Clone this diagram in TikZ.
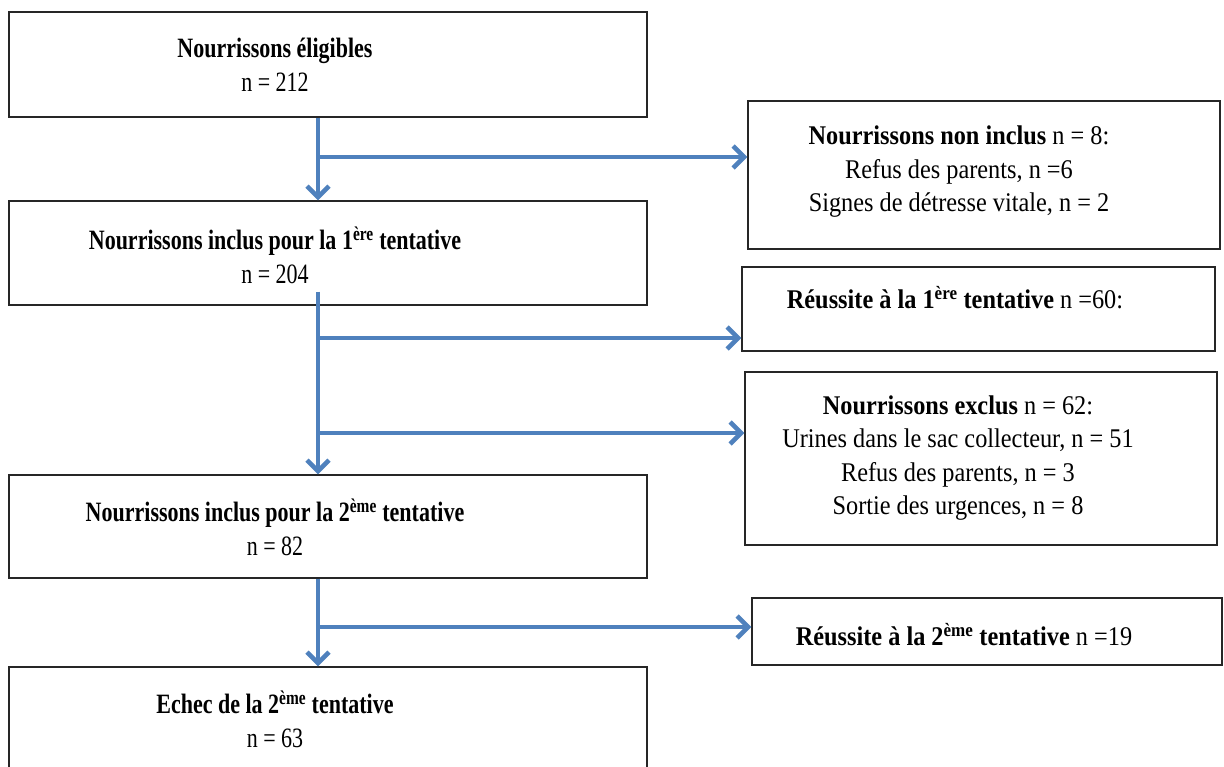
\documentclass[tikz,border=0pt]{standalone}
\usepackage{fontspec}
\setmainfont{Liberation Serif}
\newfontfamily\leftfont[FakeStretch=0.786]{Liberation Serif}
\newfontfamily\rightfont[FakeStretch=0.9]{Liberation Serif}
\usetikzlibrary{arrows.meta}
\definecolor{flowblue}{RGB}{79,129,189}
\tikzset{
  box/.style={draw=black!85, line width=1.3pt, rectangle, inner sep=0pt},
  txt/.style={align=center, inner sep=0pt, font=\leftfont\fontsize{28}{34}\selectfont, text=black},
  rtxt/.style={align=center, inner sep=0pt, font=\rightfont\fontsize{27}{33.5}\selectfont, text=black},
  flow/.style={draw=flowblue, line width=3.6pt},
  flowarrow/.style={flow, -{Straight Barb[length=11pt,width=22pt,line width=4.5pt]}}
}
\begin{document}
\begin{tikzpicture}[x=1pt,y=-1pt]
\useasboundingbox (0,0) rectangle (1224,767);
% boxes
\node[box, minimum width=638pt, minimum height=105pt] (A) at (328,64.5) {};
\node[box, minimum width=638pt, minimum height=104pt] (B) at (328,253) {};
\node[box, minimum width=638pt, minimum height=103pt] (F) at (328,526.5) {};
\node[box, minimum width=638pt, minimum height=120pt] (H) at (328,727) {};
\node[box, minimum width=472pt, minimum height=148pt] (C) at (984,175) {};
\node[box, minimum width=473pt, minimum height=84pt] (D) at (978.5,309) {};
\node[box, minimum width=472pt, minimum height=173pt] (E) at (981,458.5) {};
\node[box, minimum width=470pt, minimum height=67pt] (G) at (987,631.5) {};
% texts
\node[txt] (tA) at (275,64.5) {\textbf{Nourrissons éligibles}\\n = 212};
\node[txt] (tB) at (275,255) {\textbf{Nourrissons inclus pour la 1\textsuperscript{ère} tentative}\\n = 204};
\node[txt] (tF) at (275,527.5) {\textbf{Nourrissons inclus pour la 2\textsuperscript{ème} tentative}\\n = 82};
\node[txt] (tH) at (275,719) {\textbf{Echec de la 2\textsuperscript{ème} tentative}\\n = 63};
\node[rtxt] (tC) at (959,172) {\textbf{Nourrissons non inclus} n = 8:\\Refus des parents, n =6\\Signes de détresse vitale, n = 2};
\node[rtxt] (tD) at (955,298) {\textbf{Réussite à la 1\textsuperscript{ère} tentative} n =60:};
\node[rtxt] (tE) at (958,458) {\textbf{Nourrissons exclus} n = 62:\\Urines dans le sac collecteur, n = 51\\Refus des parents, n = 3\\Sortie des urgences, n = 8};
\node[rtxt] (tG) at (964,635) {\textbf{Réussite à la 2\textsuperscript{ème} tentative} n =19};
% junctions
\coordinate (j1) at (318,157);
\coordinate (j2) at (318,338);
\coordinate (j3) at (318,433);
\coordinate (j4) at (318,627);
% connectors
\draw[flowarrow] (A.south -| j1) -- (B.north -| j1);
\draw[flowarrow] (j1) -- (C.west |- j1);
\draw[flowarrow] ([yshift=14pt]B.south -| j2) -- (F.north -| j2);
\draw[flowarrow] (j2) -- (D.west |- j2);
\draw[flowarrow] (j3) -- (E.west |- j3);
\draw[flowarrow] (F.south -| j4) -- (H.north -| j4);
\draw[flowarrow] (j4) -- (G.west |- j4);
\end{tikzpicture}
\end{document}
